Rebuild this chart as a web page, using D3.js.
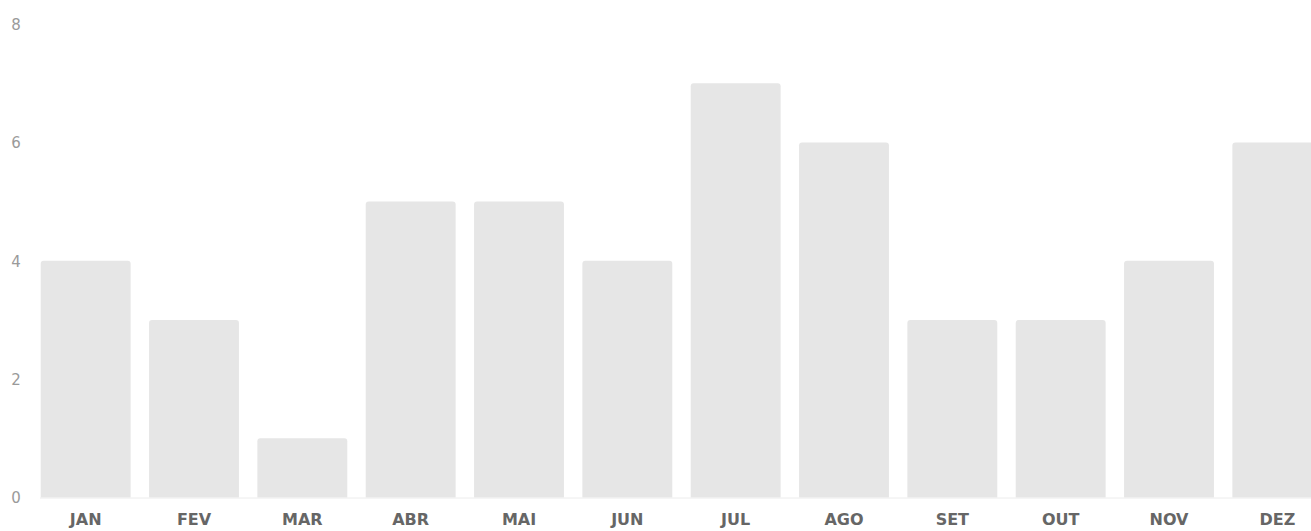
<!DOCTYPE html>
<html><head><meta charset="utf-8">
<script src="https://cdn.jsdelivr.net/npm/d3@7"></script>
<style>html,body{margin:0;padding:0;background:#fff;overflow:hidden}</style>
</head><body>
<svg id="c" width="1311" height="531"></svg>
<script>
const months = ["JAN","FEV","MAR","ABR","MAI","JUN","JUL","AGO","SET","OUT","NOV","DEZ"];
const values = [4,3,1,5,5,4,7,6,3,3,4,6];
const yTicks = [0,2,4,6,8];

const svg = d3.select("#c");
const x = d3.scaleBand().domain(months).range([31.5,1331.5]).paddingInner(0.17).paddingOuter(0.085);
const y = d3.scaleLinear().domain([0,8]).range([497.5,24]);

const r = 3;
svg.append("g").selectAll("path").data(values).join("path")
  .attr("fill","#e6e6e6")
  .attr("d",(d,i)=>{
    const x0=x(months[i]), w=x.bandwidth(), y0=y(d), y1=y(0);
    return `M${x0},${y1}V${y0+r}Q${x0},${y0} ${x0+r},${y0}H${x0+w-r}Q${x0+w},${y0} ${x0+w},${y0+r}V${y1}Z`;
  });

svg.append("line").attr("x1",40).attr("x2",1311).attr("y1",y(0)+0.5).attr("y2",y(0)+0.5)
  .attr("stroke","#ececec").attr("stroke-width",1);

const ya = svg.append("g").attr("transform","translate(16,0)")
  .call(d3.axisLeft(y).tickValues(yTicks).tickSize(0).tickPadding(0));
ya.select(".domain").remove();
ya.selectAll("text").attr("text-anchor","middle").attr("x",0).attr("dy","0.35em")
  .attr("fill","#9a9a9a").style("font-family","'DejaVu Sans',sans-serif").style("font-size","15px");

const xa = svg.append("g").attr("transform",`translate(0,${y(0)})`)
  .call(d3.axisBottom(x).tickSize(0).tickPadding(0));
xa.select(".domain").remove();
xa.selectAll("text").attr("y",22).attr("dy","0.35em").attr("fill","#666").style("font-family","'DejaVu Sans',sans-serif")
  .style("font-size","16px").style("font-weight","bold");
</script>
</body></html>
